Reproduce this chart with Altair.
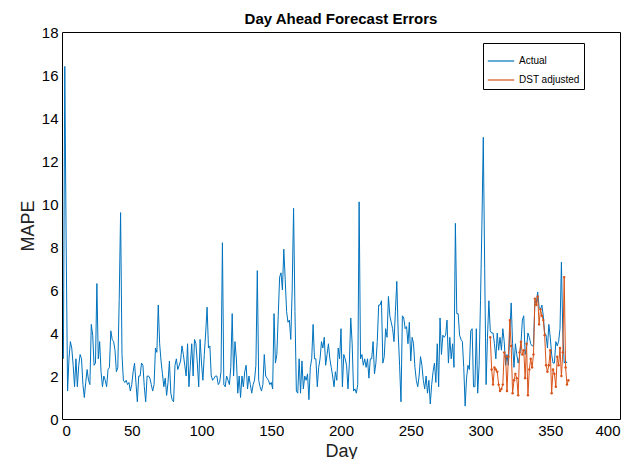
import altair as alt
import pandas as pd

# daily MAPE
actual = [
    2.8, 16.4, 8.0, 1.3, 2.8, 3.6, 3.3, 2.5, 1.5, 2.8,
    1.5, 2.5, 3.0, 2.8, 1.6, 1.0, 1.7, 2.3, 1.8, 1.6,
    4.4, 3.9, 2.5, 2.6, 6.3, 2.8, 3.6, 2.2, 1.5, 2.0,
    1.8, 1.5, 2.3, 2.4, 4.1, 3.7, 3.6, 3.2, 2.2, 2.4,
    5.5, 9.6, 3.0, 1.8, 1.7, 1.8, 1.6, 1.7, 1.3, 1.6,
    2.2, 2.6, 1.7, 0.8, 2.0, 2.0, 2.6, 2.5, 1.5, 0.8,
    2.0, 2.0, 1.9, 1.6, 1.3, 1.6, 3.3, 3.1, 5.3, 3.5,
    2.7, 2.1, 1.5, 1.9, 1.1, 1.7, 2.7, 1.2, 0.9, 0.8,
    2.5, 2.8, 2.3, 2.5, 2.7, 3.4, 3.0, 2.5, 2.0, 3.5,
    1.5, 2.5, 3.5, 2.0, 3.7, 3.5, 2.6, 1.5, 3.7, 2.6,
    1.8, 3.0, 4.0, 5.2, 3.3, 3.4, 2.0, 1.8, 1.9, 2.0,
    2.0, 1.6, 1.7, 2.2, 8.2, 1.6, 1.5, 2.0, 1.8, 1.6,
    2.4, 4.9, 2.0, 3.6, 2.8, 1.2, 2.0, 1.0, 2.0, 1.5,
    2.2, 2.5, 1.4, 2.0, 1.6, 1.2, 1.6, 1.8, 2.5, 6.9,
    1.8, 1.5, 1.3, 1.6, 3.0, 2.0, 1.9, 1.8, 1.6, 1.7,
    1.4, 4.9, 2.6, 3.0, 4.8, 6.6, 6.8, 6.0, 7.9, 6.5,
    5.0, 4.5, 4.6, 3.7, 6.0, 9.8, 5.0, 1.3, 1.2, 2.8,
    1.2, 2.7, 1.4, 2.0, 1.8, 2.1, 0.9, 2.4, 2.8, 4.4,
    2.8, 2.8, 1.5, 2.4, 2.8, 3.6, 3.3, 3.8, 2.5, 3.0,
    3.5, 2.8, 2.4, 2.0, 1.5, 2.2, 1.8, 3.3, 2.8, 4.2,
    1.5, 3.0, 2.8, 2.5, 1.4, 2.6, 4.7, 3.5, 1.3, 1.4,
    1.2, 1.6, 10.1, 2.8, 3.0, 2.5, 2.8, 2.4, 2.8, 1.9,
    2.8, 2.8, 3.6, 2.1, 2.6, 3.6, 5.3, 5.3, 5.5, 2.6,
    2.9, 4.2, 3.8, 5.7, 4.8, 4.5, 4.2, 3.6, 5.0, 6.4,
    4.0, 2.5, 0.8, 4.8, 4.7, 4.2, 4.3, 3.5, 4.5, 2.7,
    3.8, 3.5, 2.4, 1.8, 1.5, 2.0, 2.9, 2.5, 1.8, 1.4,
    2.0, 1.2, 1.8, 0.7, 1.6, 2.2, 2.6, 1.7, 3.5, 1.5,
    4.7, 3.0, 3.9, 3.8, 3.9, 4.6, 2.6, 3.8, 2.8, 3.5,
    2.4, 9.1, 4.9, 4.9, 3.9, 3.7, 3.6, 2.4, 0.6, 1.9,
    2.5, 2.3, 4.1, 4.2, 1.5, 1.5, 4.2, 1.2, 2.5, 5.5,
    9.0, 13.1, 7.0, 1.6, 3.8, 5.5, 4.1, 4.0, 4.0, 3.5,
    2.8, 4.0, 3.2, 3.8, 3.2, 4.2, 3.6, 2.5, 3.0, 2.5,
    4.0, 5.4, 3.5, 2.4, 3.5, 3.0, 2.6, 2.9, 3.5, 4.6,
    4.8, 3.0, 3.3, 4.0, 3.8, 3.5, 3.4, 3.4, 5.5, 5.4,
    5.9, 5.2, 5.1, 5.3, 4.8, 4.0, 3.9, 3.3, 4.4, 3.8,
    3.0, 2.6, 2.6, 3.6, 3.4, 3.6, 4.2, 7.3, 4.0, 2.6,
    2.7, 2.6,
]

dst_start = 307
dst_adjusted = [
    3.8, 2.3, 1.6, 2.4, 2.3, 2.2, 1.6, 1.3, 1.4, 1.6,
    3.1, 2.9, 1.3, 2.9, 4.6, 3.4, 1.2, 1.8, 2.1, 1.9,
    1.1, 3.1, 3.6, 3.0, 3.2, 1.9, 3.5, 1.1, 2.3, 2.8,
    2.4, 3.0, 5.6, 5.3, 5.7, 4.4, 5.1, 4.8, 4.6, 3.9,
    2.5, 2.2, 2.5, 3.2, 1.2, 2.3, 2.1, 1.5, 2.9, 2.5,
    3.3, 2.0, 3.1, 6.6, 2.4, 1.6, 1.8,
]

df = pd.concat([
    pd.DataFrame({"Day": range(1, len(actual) + 1), "MAPE": actual, "Series": "Actual"}),
    pd.DataFrame({"Day": range(dst_start, dst_start + len(dst_adjusted)),
                  "MAPE": dst_adjusted, "Series": "DST adjusted"}),
])

color = alt.Color("Series:N", scale=alt.Scale(domain=["Actual", "DST adjusted"],
                                              range=["#0072BD", "#D95319"]),
                  legend=alt.Legend(title=None, orient="none", legendX=421, legendY=11,
                                    symbolType="stroke", symbolSize=700, symbolStrokeWidth=1.2,
                                    labelFontSize=10, strokeColor="black", fillColor="white",
                                    padding=4, rowPadding=-12, labelOffset=4))

x = alt.X("Day:Q", scale=alt.Scale(domain=[0, 400], nice=False),
          axis=alt.Axis(values=list(range(0, 401, 50)), title="Day"))
y = alt.Y("MAPE:Q", scale=alt.Scale(domain=[0, 18], nice=False),
          axis=alt.Axis(values=list(range(0, 19, 2)), title="MAPE"))

lines = alt.Chart(df).mark_line(strokeWidth=1).encode(x=x, y=y, color=color, detail="Series:N")
dots = alt.Chart(df[df["Series"] == "DST adjusted"]).mark_point(
    filled=True, size=6, color="#D95319", opacity=1).encode(x=x, y=y)

chart = (lines + dots).properties(
    width=558, height=387, autosize="none",
    padding={"left": 54, "top": 24, "right": 10, "bottom": 40},
    title=alt.Title("Day Ahead Forecast Errors", fontSize=15, fontWeight="bold",
                    font="Liberation Sans", offset=-2),
).configure_view(stroke="black", strokeWidth=1).configure_axis(
    grid=False, ticks=False, domain=False, labelFont="Liberation Sans", titleFont="Liberation Sans",
    labelFontSize=15, titleFontSize=18, titleFontWeight="normal", labelColor="black",
    titleColor="#222", labelPadding=4,
).configure_legend(labelFont="Liberation Sans")

chart.save("out.html", embed_options={"renderer": "svg", "actions": False})
